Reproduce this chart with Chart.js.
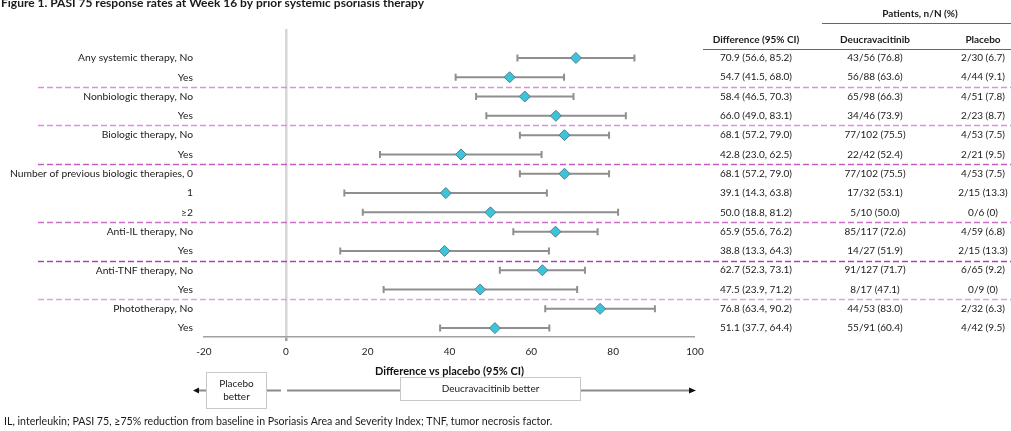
<!DOCTYPE html>
<html>
<head>
<meta charset="utf-8">
<script src="https://cdn.jsdelivr.net/npm/chart.js@4"></script>
<style>
  html, body { margin: 0; padding: 0; background: #fff; }
  #wrap { width: 1011px; height: 431px; position: relative; }
</style>
</head>
<body>
<div id="wrap"><canvas id="myChart" width="1011" height="431"></canvas></div>
<script>
const rowLabels = [
  "Any systemic therapy, No", "Yes",
  "Nonbiologic therapy, No", "Yes",
  "Biologic therapy, No", "Yes",
  "Number of previous biologic therapies, 0", "1", "\u22652",
  "Anti-IL therapy, No", "Yes",
  "Anti-TNF therapy, No", "Yes",
  "Phototherapy, No", "Yes"
];
const diffEst = [70.9, 54.7, 58.4, 66.0, 68.1, 42.8, 68.1, 39.1, 50.0, 65.9, 38.8, 62.7, 47.5, 76.8, 51.1];
const diffLow = [56.6, 41.5, 46.5, 49.0, 57.2, 23.0, 57.2, 14.3, 18.8, 55.6, 13.3, 52.3, 23.9, 63.4, 37.7];
const diffHigh = [85.2, 68.0, 70.3, 83.1, 79.0, 62.5, 79.0, 63.8, 81.2, 76.2, 64.3, 73.1, 71.2, 90.2, 64.4];
const deucN = [43, 56, 65, 34, 77, 22, 77, 17, 5, 85, 14, 91, 8, 44, 55];
const deucTotal = [56, 88, 98, 46, 102, 42, 102, 32, 10, 117, 27, 127, 17, 53, 91];
const deucPct = [76.8, 63.6, 66.3, 73.9, 75.5, 52.4, 75.5, 53.1, 50.0, 72.6, 51.9, 71.7, 47.1, 83.0, 60.4];
const placN = [2, 4, 4, 2, 4, 2, 4, 2, 0, 4, 2, 6, 0, 2, 4];
const placTotal = [30, 44, 51, 23, 53, 21, 53, 15, 6, 59, 15, 65, 9, 32, 42];
const placPct = [6.7, 9.1, 7.8, 8.7, 7.5, 9.5, 7.5, 13.3, 0, 6.8, 13.3, 9.2, 0, 6.3, 9.5];
const xTicks = [-20, 0, 20, 40, 60, 80, 100];
// separators sit after these rows
const groupEnds = [1, 3, 5, 8, 10, 12];
const sepColors = ["#de90de", "#de90de", "#c45ec4", "#c870c8", "#aa46aa", "#e39fe3"];

const FONT = "Lato, 'Open Sans', sans-serif";
const fmtPct = (p) => (p === 0 ? "0" : p.toFixed(1));

const forestExtras = {
  id: "forestExtras",
  beforeDatasetsDraw(chart) {
    const ctx = chart.ctx;
    const x = chart.scales.x, y = chart.scales.y;
    ctx.save();
    // group separators
    ctx.lineWidth = 1.5;
    ctx.setLineDash([6, 3]);
    groupEnds.forEach((r, k) => {
      const py = Math.round(y.getPixelForValue(r + 0.5)) + 0.5;
      ctx.strokeStyle = sepColors[k];
      ctx.beginPath();
      ctx.moveTo(38, py);
      ctx.lineTo(1011, py);
      ctx.stroke();
    });
    ctx.setLineDash([]);
    // CI whiskers
    ctx.strokeStyle = "#8f8f8f";
    ctx.lineWidth = 2;
    diffEst.forEach((v, i) => {
      const py = y.getPixelForValue(i);
      const x1 = x.getPixelForValue(diffLow[i]);
      const x2 = x.getPixelForValue(diffHigh[i]);
      ctx.beginPath();
      ctx.moveTo(x1, py); ctx.lineTo(x2, py);
      ctx.moveTo(x1, py - 3.5); ctx.lineTo(x1, py + 3.5);
      ctx.moveTo(x2, py - 3.5); ctx.lineTo(x2, py + 3.5);
      ctx.stroke();
    });
    ctx.restore();
  },
  afterDraw(chart) {
    const ctx = chart.ctx;
    const y = chart.scales.y;
    ctx.save();
    ctx.fillStyle = "#1a1a1a";

    // title (top partly clipped in the reference)
    ctx.textAlign = "left";
    ctx.textBaseline = "alphabetic";
    ctx.font = "bold 12px " + FONT;
    ctx.fillText("Figure 1. PASI 75 response rates at Week 16 by prior systemic psoriasis therapy", 1, 6.5);

    // table headers
    ctx.textBaseline = "middle";
    ctx.textAlign = "center";
    ctx.font = "bold 10px " + FONT;
    ctx.fillText("Patients, n/N (%)", 920, 14);
    ctx.fillText("Difference (95% CI)", 756, 40);
    ctx.fillText("Deucravacitinib", 875, 40);
    ctx.fillText("Placebo", 983, 40);
    ctx.strokeStyle = "#666";
    ctx.lineWidth = 1;
    ctx.beginPath();
    ctx.moveTo(822, 23.5); ctx.lineTo(1011, 23.5);
    ctx.moveTo(703, 49.5); ctx.lineTo(1011, 49.5);
    ctx.stroke();

    // table rows
    ctx.font = "10px " + FONT;
    diffEst.forEach((v, i) => {
      const py = y.getPixelForValue(i);
      ctx.fillText(v.toFixed(1) + " (" + diffLow[i].toFixed(1) + ", " + diffHigh[i].toFixed(1) + ")", 756, py);
      ctx.fillText(deucN[i] + "/" + deucTotal[i] + " (" + fmtPct(deucPct[i]) + ")", 875, py);
      ctx.fillText(placN[i] + "/" + placTotal[i] + " (" + fmtPct(placPct[i]) + ")", 983, py);
    });

    // direction arrows
    const ay = 390.5;
    ctx.strokeStyle = "#8a8a8a";
    ctx.lineWidth = 2;
    ctx.beginPath();
    ctx.moveTo(198, ay); ctx.lineTo(206, ay);
    ctx.moveTo(267, ay); ctx.lineTo(281, ay);
    ctx.moveTo(287, ay); ctx.lineTo(400, ay);
    ctx.moveTo(581, ay); ctx.lineTo(690, ay);
    ctx.stroke();
    ctx.fillStyle = "#111";
    ctx.beginPath();
    ctx.moveTo(193, ay); ctx.lineTo(199, ay - 3); ctx.lineTo(199, ay + 3); ctx.closePath();
    ctx.moveTo(696, ay); ctx.lineTo(689, ay - 3); ctx.lineTo(689, ay + 3); ctx.closePath();
    ctx.fill();

    ctx.strokeStyle = "#c8c8c8";
    ctx.lineWidth = 1;
    ctx.strokeRect(206.5, 372.5, 60, 36);
    ctx.strokeRect(400.5, 377.5, 180, 23);
    ctx.fillStyle = "#1a1a1a";
    ctx.font = "10px " + FONT;
    ctx.fillText("Placebo", 236.5, 384);
    ctx.fillText("better", 236.5, 397);
    ctx.fillText("Deucravacitinib better", 490.5, 389);

    // footnote
    ctx.textAlign = "left";
    ctx.font = "10.6px " + FONT;
    ctx.fillText("IL, interleukin; PASI 75, \u226575% reduction from baseline in Psoriasis Area and Severity Index; TNF, tumor necrosis factor.", 4, 422);
    ctx.restore();
  }
};

const ctx = document.getElementById("myChart").getContext("2d");
new Chart(ctx, {
  type: "scatter",
  data: {
    datasets: [
      {
        data: diffEst.map((v, i) => ({ x: v, y: i })),
        pointStyle: "rectRot",
        radius: 5.5,
        backgroundColor: "#3cc5da",
        borderColor: "#587a86",
        borderWidth: 1,
      },
    ],
  },
  options: {
    responsive: false,
    animation: false,
    events: [],
    layout: { padding: { top: 29, right: 316, left: 0, bottom: 0 } },
    plugins: { legend: { display: false }, tooltip: { enabled: false } },
    scales: {
      x: {
        type: "linear",
        min: -20,
        max: 100,
        afterBuildTicks: (scale) => {
          scale.ticks = xTicks.map((v) => ({ value: v }));
        },
        afterFit: (scale) => {
          scale.height = 431 - 337;
        },
        border: { color: "#a0a0a0", width: 1.5 },
        grid: {
          color: (c) => (c.tick && c.tick.value === 0 ? "#d6d6d6" : "transparent"),
          lineWidth: (c) => (c.tick && c.tick.value === 0 ? 2.5 : 0),
          tickColor: "#a0a0a0",
          tickLength: 4,
        },
        ticks: {
          color: "#222",
          font: { family: FONT, size: 10 },
          padding: 5,
        },
        title: {
          display: true,
          text: "Difference vs placebo (95% CI)",
          color: "#111",
          font: { family: FONT, size: 11, weight: "bold" },
          padding: { top: 4, bottom: 53 },
        },
      },
      y: {
        type: "linear",
        reverse: true,
        min: -1.5,
        max: 14.46,
        afterBuildTicks: (scale) => {
          scale.ticks = rowLabels.map((_, i) => ({ value: i }));
        },
        afterFit: (scale) => {
          scale.width = 204;
        },
        grid: { display: false, drawTicks: false },
        border: { display: false },
        ticks: {
          autoSkip: false,
          padding: 11,
          color: "#1a1a1a",
          font: { family: FONT, size: 10.3 },
          callback: (value) => rowLabels[value],
        },
      },
    },
  },
  plugins: [forestExtras],
});
</script>
</body>
</html>
